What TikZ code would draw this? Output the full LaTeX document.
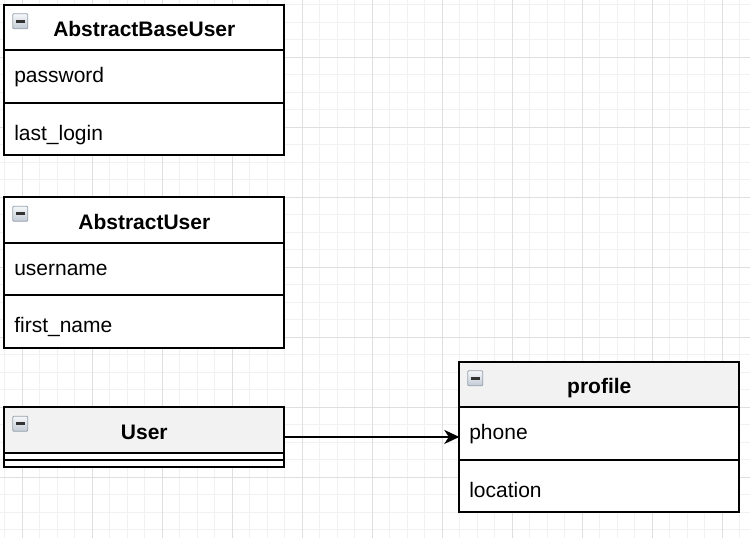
\documentclass[tikz,border=0pt]{standalone}
\usepackage{fontspec}
\setmainfont{Liberation Sans}
\usetikzlibrary{arrows.meta}
\definecolor{hdrgray}{HTML}{F2F2F2}
\definecolor{gridminor}{HTML}{F1F1F1}
\definecolor{gridmajor}{HTML}{DFDFDF}
\definecolor{iconborder}{HTML}{98A2AE}
\definecolor{icontop}{HTML}{F6F8FA}
\definecolor{iconbot}{HTML}{C2CAD4}
\begin{document}
\begin{tikzpicture}[x=1pt,y=-1pt,
  sect/.style={draw=black, line width=1.75pt, fill=white, minimum width=280pt, inner sep=0pt, outer sep=0pt, anchor=north west},
  hdr/.style={sect, minimum height=45.5pt},
  hdrg/.style={hdr, fill=hdrgray},
  row/.style={sect, minimum height=52.5pt},
  thinrow/.style={sect, minimum height=7pt},
  outline/.style={draw=black, line width=1.75pt, minimum width=280pt, inner sep=0pt, outer sep=0pt, anchor=north west},
  title/.style={font=\fontsize{21}{25}\selectfont\bfseries, anchor=base, inner sep=0pt},
  field/.style={font=\fontsize{21}{25}\selectfont, anchor=base west, inner sep=0pt},
  icon/.style={draw=iconborder, line width=0.9pt, top color=icontop, bottom color=iconbot, minimum size=15pt, inner sep=0pt, anchor=north west, rounded corners=1pt},
  bar/.style={fill=black!80, minimum width=9pt, minimum height=2.6pt, inner sep=0pt},
  conn/.style={line width=1.75pt, -{Stealth[length=15pt,width=14pt,inset=4.5pt]}},
  gminor/.style={gridminor, line width=1pt},
  gmajor/.style={gridmajor, line width=1pt}
]
\useasboundingbox (0,0) rectangle (750,538);
\fill[white] (0,0) rectangle (750,538);
% grid
\foreach \k in {0,...,42} { \draw[gminor] (4.8+17.5*\k,0) -- (4.8+17.5*\k,538); }
\foreach \k in {0,...,30} { \draw[gminor] (0,4.8+17.5*\k) -- (750,4.8+17.5*\k); }
\foreach \k in {0,...,10} { \draw[gmajor] (22.3+70*\k,0) -- (22.3+70*\k,538); }
\foreach \k in {0,...,6} { \draw[gmajor] (0,57.3+70*\k) -- (750,57.3+70*\k); }

% AbstractBaseUser
\node[hdr] (abuH) at (4.3,4.7) {};
\node[row] (abuR1) at (4.3,50.2) {};
\node[row] (abuR2) at (4.3,102.7) {};
\node[outline, minimum height=150.5pt] (abu) at (4.3,4.7) {};
\node[icon] (abuI) at (12.3,13.3) {};
\node[bar] (abuB) at (abuI.center) {};
\node[title] (abuT) at (144.3,36.7) {AbstractBaseUser};
\node[field] (abuF1) at (14.1,82.5) {password};
\node[field] (abuF2) at (14.1,140) {last\_login};

% AbstractUser
\node[hdr] (auH) at (4.3,197.2) {};
\node[row] (auR1) at (4.3,242.7) {};
\node[row] (auR2) at (4.3,295.2) {};
\node[outline, minimum height=150.5pt] (au) at (4.3,197.2) {};
\node[icon] (auI) at (12.3,205.8) {};
\node[bar] (auB) at (auI.center) {};
\node[title] (auT) at (144.3,229.2) {AbstractUser};
\node[field] (auF1) at (14.1,275) {username};
\node[field] (auF2) at (14.1,332.5) {first\_name};

% User
\node[hdrg] (userH) at (4.3,407.2) {};
\node[thinrow] (userR1) at (4.3,452.7) {};
\node[thinrow] (userR2) at (4.3,459.7) {};
\node[outline, minimum height=59.5pt] (user) at (4.3,407.2) {};
\node[icon] (userI) at (12.3,415.8) {};
\node[bar] (userB) at (userI.center) {};
\node[title] (userT) at (144.3,439.2) {User};

% profile
\node[hdrg] (profH) at (459.3,361.7) {};
\node[row] (profR1) at (459.3,407.2) {};
\node[row] (profR2) at (459.3,459.7) {};
\node[outline, minimum height=150.5pt] (prof) at (459.3,361.7) {};
\node[icon] (profI) at (467.3,370.3) {};
\node[bar] (profB) at (profI.center) {};
\node[title] (profT) at (599.3,393.7) {profile};
\node[field] (profF1) at (469.1,439.5) {phone};
\node[field] (profF2) at (469.1,497.5) {location};

% connector
\draw[conn] (user.east) -- (prof.west);
\end{tikzpicture}
\end{document}
